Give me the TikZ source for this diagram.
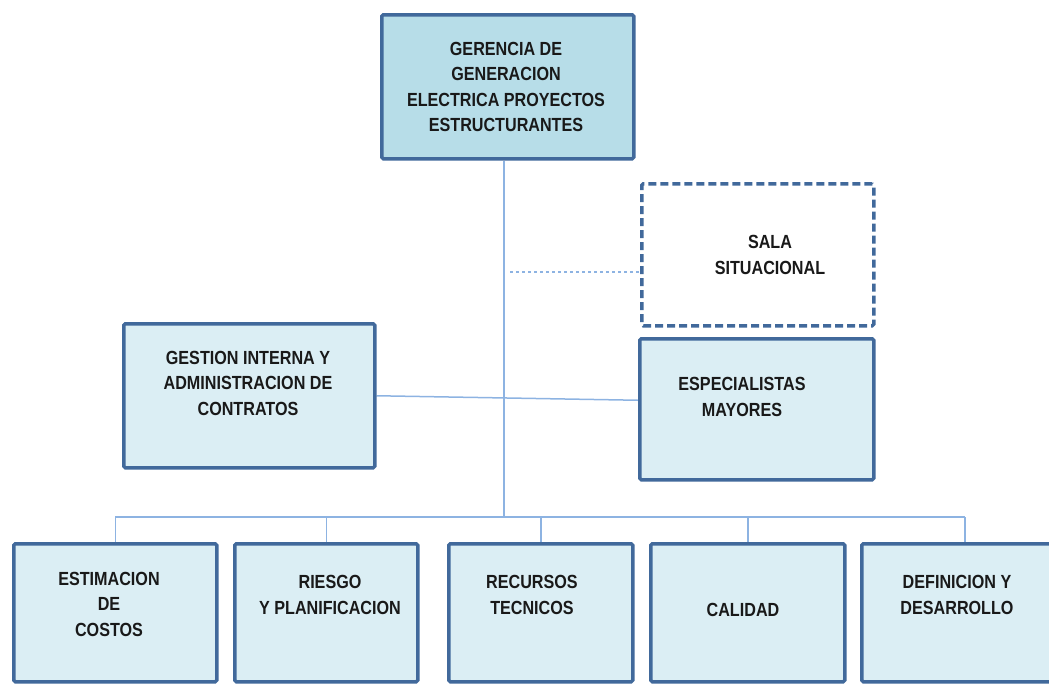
\documentclass[tikz,border=0pt]{standalone}
\usepackage{fontspec}
\newfontfamily\boxfont{Liberation Sans}[FakeStretch=0.85]
\usetikzlibrary{backgrounds}
\definecolor{bordc}{RGB}{65,105,155}
\definecolor{topfill}{RGB}{183,221,232}
\definecolor{boxfill}{RGB}{219,238,244}
\definecolor{linec}{RGB}{141,179,226}
\definecolor{textc}{RGB}{25,25,25}
\begin{document}
\begin{tikzpicture}[x=1pt,y=-1pt,
  box/.style={draw=bordc, line width=3.5pt, fill=boxfill, rounded corners=1.5pt, inner sep=0pt, anchor=north west},
  topbox/.style={box, fill=topfill},
  dashbox/.style={box, fill=white, dash pattern=on 8pt off 4pt},
  txt/.style={font=\boxfont\bfseries\fontsize{19}{25.5}\selectfont, text=textc, align=center, inner sep=0pt},
  conn/.style={draw=linec, line width=1.5pt},
  dotconn/.style={draw=linec, line width=1.5pt, dash pattern=on 3pt off 3pt}]
\useasboundingbox (0,0) rectangle (1049,683);
\clip (0,0) rectangle (1049,683);
% boxes
\node[topbox, minimum width=252pt, minimum height=144pt] (top) at (380,13) {};
\node[dashbox, minimum width=232pt, minimum height=142pt] (sala) at (640,182) {};
\node[box, minimum width=251pt, minimum height=144pt] (gest) at (122,322) {};
\node[box, minimum width=234pt, minimum height=141pt] (spec) at (638,337) {};
\node[box, minimum width=203pt, minimum height=138pt] (b1) at (12,542) {};
\node[box, minimum width=183pt, minimum height=138pt] (b2) at (233,542) {};
\node[box, minimum width=184pt, minimum height=138pt] (b3) at (447,542) {};
\node[box, minimum width=194pt, minimum height=138pt] (b4) at (649,542) {};
\node[box, minimum width=206pt, minimum height=138pt] (b5) at (860,542) {};
% texts
\node[txt] (ttop) at (506,87) {GERENCIA DE\\GENERACION\\ELECTRICA PROYECTOS\\ESTRUCTURANTES};
\node[txt] (tsala) at (770,255) {SALA\\SITUACIONAL};
\node[txt] (tgest) at (248,383) {GESTION INTERNA Y\\ADMINISTRACION DE\\CONTRATOS};
\node[txt] (tspec) at (742,397) {ESPECIALISTAS\\MAYORES};
\node[txt] (tb1) at (109,604) {ESTIMACION\\DE\\COSTOS};
\node[txt] (tb2) at (330,595) {RIESGO\\Y PLANIFICACION};
\node[txt] (tb3) at (532,595) {RECURSOS\\TECNICOS};
\node[txt] (tb4) at (743,610) {CALIDAD};
\node[txt] (tb5) at (957,595) {DEFINICION Y\\DESARROLLO};
% connectors
\coordinate (bus) at (504,517);
\coordinate (dotstart) at (510,272);
\begin{scope}[on background layer]
\draw[conn] (top.south -| bus) -- (bus);
\draw[conn] (b1.north |- bus) -- (b5.north |- bus);
\foreach \b in {b1,b2,b3,b4,b5}{
  \draw[conn] (\b.north) -- (\b.north |- bus);
}
\draw[conn] (gest.east) -- ([yshift=9pt]spec.west);
\draw[dotconn] (dotstart) -- (dotstart -| sala.west);
\end{scope}
\end{tikzpicture}
\end{document}
